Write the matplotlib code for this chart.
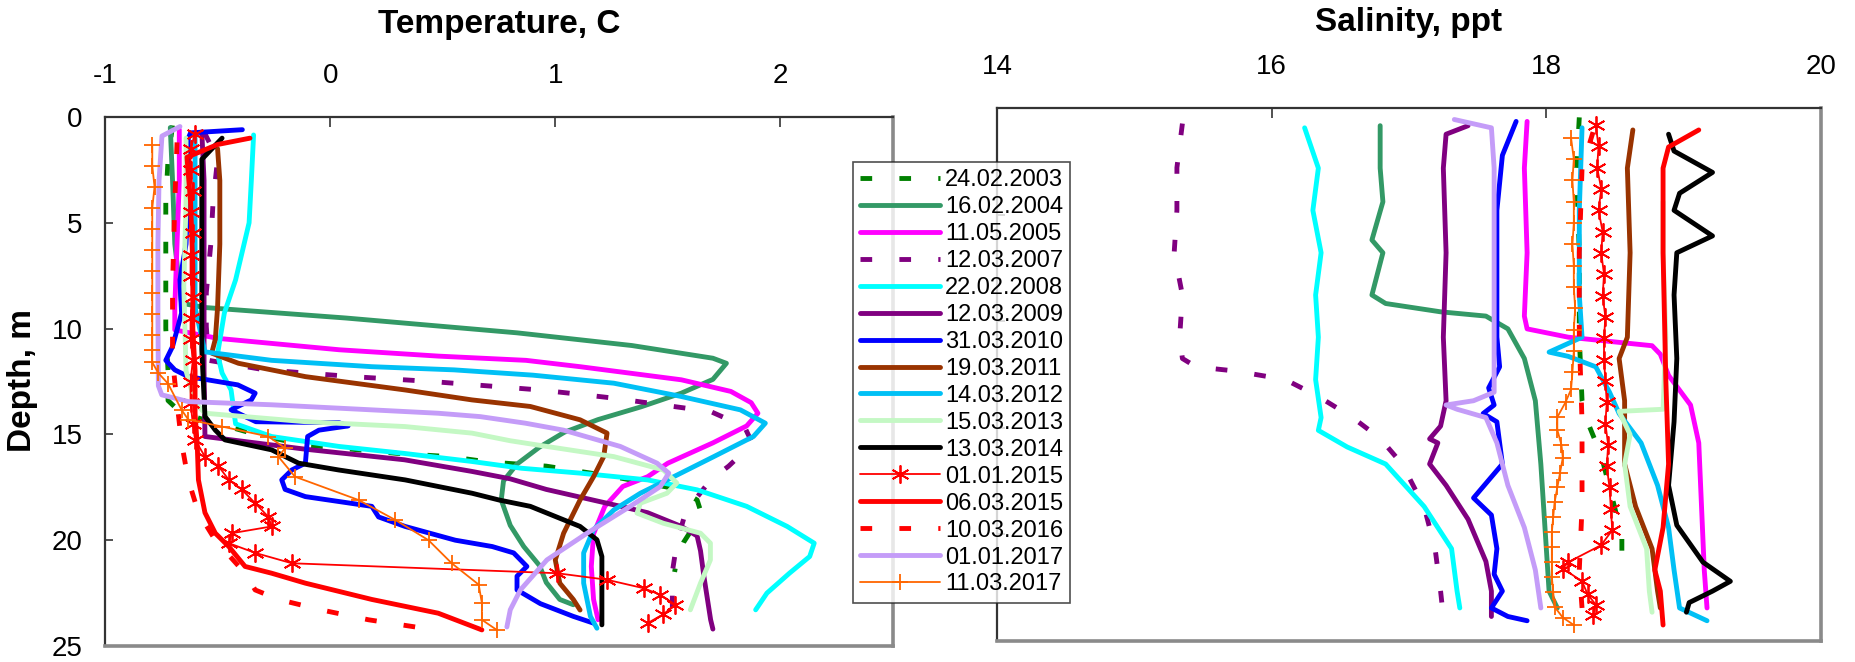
import matplotlib
matplotlib.use("Agg")
import matplotlib.pyplot as plt

plt.rcParams['font.family'] = ['Liberation Sans', 'DejaVu Sans']

labels = ["24.02.2003", "16.02.2004", "11.05.2005", "12.03.2007", "22.02.2008",
          "12.03.2009", "31.03.2010", "19.03.2011", "14.03.2012", "15.03.2013",
          "13.03.2014", "01.01.2015", "06.03.2015", "10.03.2016", "01.01.2017",
          "11.03.2017"]

# ---------------- Temperature profiles (depth m, temperature C) ----------------
t_d_2003 = [0.4, 2, 4, 6, 8, 10, 12, 13.4, 14.0, 15.0, 15.5, 15.9, 16.05, 16.3, 16.5, 17.0, 17.6, 18.1, 18.6, 19.35, 20.1, 20.9, 21.5]
t_v_2003 = [-0.70, -0.72, -0.73, -0.73, -0.73, -0.73, -0.72, -0.72, -0.66, -0.33, -0.11, 0.30, 0.53, 0.70, 0.96, 1.26, 1.55, 1.63, 1.645, 1.615, 1.57, 1.54, 1.53]

t_d_2004 = [0.5, 3, 6, 8.8, 9.0, 9.5, 10.2, 10.8, 11.4, 11.64, 12.4, 13.05, 13.7, 14.3, 14.9, 15.6, 16.4, 17.2, 18.1, 19.3, 20.3, 21.2, 22.0, 22.8, 23.05]
t_v_2004 = [-0.71, -0.70, -0.69, -0.66, -0.56, 0.07, 0.83, 1.34, 1.70, 1.76, 1.70, 1.56, 1.38, 1.19, 1.04, 0.93, 0.83, 0.77, 0.76, 0.80, 0.86, 0.93, 0.96, 1.02, 1.08]

t_d_2005 = [0.6, 3, 6, 9, 10.06, 10.46, 11.0, 11.3, 11.5, 11.8, 12.42, 12.97, 13.5, 14.0, 14.6, 15.4, 16.36, 17.0, 17.46, 18.4, 19.7, 21.24, 22.8, 23.76]
t_v_2005 = [-0.67, -0.67, -0.68, -0.69, -0.69, -0.50, 0.04, 0.48, 0.87, 1.11, 1.56, 1.78, 1.87, 1.90, 1.85, 1.70, 1.50, 1.41, 1.30, 1.22, 1.17, 1.16, 1.17, 1.19]

t_d_2007 = [0.7, 2, 4, 6, 8.3, 9.9, 11.5, 11.95, 12.27, 12.5, 12.74, 12.9, 13.13, 13.3, 13.6, 13.92, 14.63, 15.3, 16.0, 16.5, 17.15, 18.1, 19.0, 20.1, 21.5, 23.6]
t_v_2007 = [-0.56, -0.50, -0.52, -0.53, -0.55, -0.55, -0.54, -0.29, 0.10, 0.45, 0.74, 0.93, 1.13, 1.27, 1.47, 1.69, 1.84, 1.87, 1.82, 1.77, 1.69, 1.62, 1.57, 1.54, 1.52, 1.52]

t_d_2008 = [0.85, 3, 5, 7.7, 9.27, 11.2, 12.1, 12.9, 13.7, 14.5, 15.1, 15.57, 15.9, 16.28, 16.6, 16.83, 17.15, 17.62, 18.4, 19.35, 20.14, 20.77, 21.56, 22.5, 23.29]
t_v_2008 = [-0.34, -0.35, -0.36, -0.42, -0.47, -0.50, -0.48, -0.44, -0.43, -0.42, -0.26, 0.04, 0.33, 0.63, 0.85, 1.11, 1.41, 1.63, 1.85, 2.03, 2.15, 2.13, 2.04, 1.94, 1.89]

t_d_2009 = [0.7, 3, 6, 9, 12, 15.1, 15.7, 16.2, 16.75, 17.1, 17.6, 18.4, 18.7, 19.35, 19.8, 20.5, 21.7, 23.76, 24.2]
t_v_2009 = [-0.57, -0.56, -0.56, -0.56, -0.56, -0.556, -0.11, 0.33, 0.63, 0.80, 0.96, 1.29, 1.41, 1.56, 1.63, 1.645, 1.66, 1.69, 1.70]

t_d_2010 = [0.6, 0.75, 1.0, 3, 6, 7.7, 9.27, 10.85, 11.5, 11.95, 12.27, 12.4, 12.66, 13.05, 13.37, 13.68, 13.84, 14.4, 14.45, 14.6, 14.8, 15.1, 16.36, 16.68, 17.15, 17.6, 17.94, 18.4, 18.9, 19.35, 20.0, 20.3, 20.6, 21.24, 21.7, 22.35, 23.0, 23.6, 23.92]
t_v_2010 = [-0.39, -0.62, -0.63, -0.63, -0.64, -0.667, -0.66, -0.70, -0.73, -0.69, -0.63, -0.556, -0.41, -0.333, -0.35, -0.41, -0.44, -0.33, 0.04, 0.08, -0.05, -0.10, -0.11, -0.17, -0.215, -0.20, -0.11, 0.185, 0.215, 0.333, 0.556, 0.72, 0.815, 0.874, 0.83, 0.83, 0.934, 1.08, 1.17]

t_d_2011 = [1.5, 3, 6, 9, 10.5, 11.16, 11.64, 12.27, 12.9, 13.37, 13.68, 14.31, 14.94, 16.05, 17.0, 18.1, 19.67, 20.93, 22.03, 22.8, 23.3]
t_v_2011 = [-0.50, -0.49, -0.49, -0.50, -0.51, -0.526, -0.407, -0.11, 0.333, 0.63, 0.889, 1.11, 1.23, 1.215, 1.17, 1.11, 1.037, 1.0, 1.02, 1.08, 1.11]

t_d_2012 = [0.8, 3, 6, 9, 11.1, 11.5, 11.8, 11.95, 12.2, 12.58, 13.2, 13.84, 14.47, 15.1, 16.05, 17.0, 17.78, 18.57, 19.5, 20.6, 22.03, 23.6, 24.16]
t_v_2012 = [-0.60, -0.60, -0.60, -0.60, -0.556, -0.26, 0.185, 0.55, 0.90, 1.26, 1.556, 1.822, 1.933, 1.88, 1.704, 1.526, 1.378, 1.26, 1.17, 1.126, 1.126, 1.156, 1.185]

t_d_2013 = [1.0, 4, 8, 12, 13.5, 14.0, 14.4, 14.63, 14.94, 15.3, 15.57, 16.05, 16.68, 17.3, 17.78, 18.25, 18.72, 19.2, 19.67, 20.14, 20.93, 22.03, 23.29]
t_v_2013 = [-0.64, -0.64, -0.65, -0.64, -0.60, -0.556, -0.11, 0.333, 0.63, 0.80, 0.963, 1.26, 1.48, 1.54, 1.496, 1.378, 1.363, 1.48, 1.645, 1.689, 1.689, 1.645, 1.60]

t_d_2014 = [1.0, 2.0, 5, 8, 11, 14.15, 14.8, 15.26, 15.73, 16.36, 16.68, 17.15, 17.78, 18.1, 18.4, 19.35, 19.98, 20.77, 22.8, 24.0]
t_v_2014 = [-0.48, -0.57, -0.57, -0.57, -0.57, -0.556, -0.51, -0.467, -0.26, -0.14, 0.037, 0.333, 0.63, 0.75, 0.889, 1.11, 1.185, 1.207, 1.207, 1.207]

t_d_2015a = [0.8, 1.5, 2.5, 3.5, 4.5, 5.5, 6.5, 7.5, 8.5, 9.5, 10.5, 11.5, 12.5, 13.5, 14.5, 15.26, 16.05, 16.5, 17.15, 17.6, 18.25, 18.9, 19.35, 19.67, 20.14, 20.6, 21.09, 21.56, 21.87, 22.27, 22.58, 23.05, 23.5, 23.92]
t_v_2015a = [-0.60, -0.62, -0.62, -0.61, -0.62, -0.61, -0.62, -0.62, -0.61, -0.62, -0.62, -0.61, -0.62, -0.62, -0.61, -0.60, -0.556, -0.496, -0.45, -0.393, -0.333, -0.274, -0.26, -0.437, -0.45, -0.333, -0.17, 1.008, 1.23, 1.393, 1.467, 1.533, 1.48, 1.41]

t_d_2015b = [1.0, 1.3, 1.9, 4, 7, 10, 12, 14, 15.57, 17.15, 18.7, 19.67, 20.3, 21.24, 21.56, 22.03, 22.8, 23.45, 24.24]
t_v_2015b = [-0.356, -0.50, -0.636, -0.62, -0.61, -0.61, -0.60, -0.60, -0.59, -0.585, -0.556, -0.51, -0.45, -0.378, -0.26, -0.11, 0.185, 0.48, 0.674]

t_d_2016 = [1.2, 4, 8, 11.5, 13.5, 15.4, 17.15, 18.7, 20.0, 21.56, 22.35, 22.8, 23.3, 23.76, 24.1]
t_v_2016 = [-0.68, -0.69, -0.70, -0.70, -0.68, -0.66, -0.63, -0.585, -0.51, -0.378, -0.333, -0.23, -0.037, 0.17, 0.378]

t_d_2017a = [0.45, 0.9, 3, 6, 9, 12.7, 13.13, 13.45, 13.6, 13.84, 14.0, 14.16, 14.47, 14.8, 15.57, 16.36, 16.83, 17.46, 18.4, 19.67, 20.93, 22.35, 23.29, 24.1]
t_v_2017a = [-0.667, -0.747, -0.76, -0.765, -0.765, -0.763, -0.748, -0.63, -0.26, 0.185, 0.48, 0.667, 0.867, 1.037, 1.289, 1.452, 1.504, 1.467, 1.333, 1.141, 0.963, 0.845, 0.80, 0.785]

t_d_2017b = [1.3, 2.3, 3.3, 4.3, 5.3, 6.3, 7.3, 8.3, 9.3, 10.3, 11.0, 11.6, 12.1, 12.6, 13.84, 14.3, 14.63, 15.1, 15.65, 16.05, 17.0, 18.1, 19.04, 20.0, 21.09, 22.1, 22.98, 23.76, 24.24]
t_v_2017b = [-0.79, -0.79, -0.78, -0.79, -0.79, -0.79, -0.79, -0.79, -0.79, -0.79, -0.79, -0.79, -0.763, -0.72, -0.66, -0.63, -0.48, -0.274, -0.20, -0.23, -0.156, 0.126, 0.289, 0.437, 0.54, 0.66, 0.674, 0.674, 0.74]

# ---------------- Salinity profiles (depth m, salinity ppt) ----------------
s_d_2003 = [0.44, 2.82, 6.79, 10.75, 13.73, 14.72, 16.3, 18.29, 20.08, 21.47]
s_v_2003 = [18.24, 18.22, 18.24, 18.24, 18.26, 18.30, 18.40, 18.48, 18.55, 18.55]

s_d_2004 = [0.83, 2.82, 4.4, 6.19, 6.79, 8.77, 9.17, 9.56, 9.76, 10.36, 11.75, 13.73, 16.7, 20.67, 22.66, 23.45]
s_v_2004 = [16.79, 16.79, 16.81, 16.73, 16.81, 16.73, 16.83, 17.23, 17.56, 17.72, 17.84, 17.92, 17.96, 18.00, 18.02, 18.08]

s_d_2005 = [0.63, 2.82, 6.79, 9.76, 10.36, 10.75, 11.15, 11.55, 12.54, 13.93, 15.71, 18.69, 21.67, 23.45]
s_v_2005 = [17.86, 17.84, 17.86, 17.84, 17.86, 18.16, 18.77, 18.83, 18.89, 19.05, 19.11, 19.13, 19.15, 19.17]

s_d_2007 = [0.73, 2.8, 4.8, 6.8, 8.77, 10.75, 11.75, 12.14, 12.34, 12.74, 13.53, 14.52, 15.5, 16.7, 18.7, 20.67, 22.66, 23.85]
s_v_2007 = [15.35, 15.31, 15.31, 15.29, 15.35, 15.33, 15.35, 15.45, 15.74, 16.10, 16.34, 16.59, 16.79, 16.95, 17.11, 17.19, 17.23, 17.25]

s_d_2008 = [0.93, 2.82, 4.8, 6.79, 8.77, 10.75, 12.74, 14.52, 15.12, 15.9, 16.7, 18.69, 20.67, 22.66, 23.45]
s_v_2008 = [16.24, 16.34, 16.30, 16.36, 16.32, 16.34, 16.32, 16.36, 16.34, 16.55, 16.83, 17.11, 17.31, 17.35, 17.37]

s_d_2009 = [0.83, 1.23, 2.82, 6.79, 10.75, 13.73, 14.92, 15.52, 15.71, 16.7, 17.7, 19.29, 21.27, 22.66, 23.85]
s_v_2009 = [17.43, 17.27, 17.25, 17.27, 17.25, 17.27, 17.23, 17.15, 17.21, 17.15, 17.27, 17.43, 17.56, 17.60, 17.60]

s_d_2010 = [0.63, 2.22, 4.8, 10.75, 12.14, 13.13, 13.93, 14.33, 14.72, 16.7, 18.29, 19.09, 20.67, 21.87, 22.66, 23.45, 23.85, 24.05]
s_v_2010 = [17.78, 17.68, 17.64, 17.64, 17.66, 17.58, 17.62, 17.54, 17.64, 17.68, 17.47, 17.60, 17.64, 17.62, 17.68, 17.60, 17.72, 17.86]

s_d_2011 = [1.03, 2.82, 6.79, 10.75, 11.75, 13.73, 16.7, 18.69, 20.67, 22.66, 23.45]
s_v_2011 = [18.63, 18.59, 18.61, 18.59, 18.53, 18.57, 18.57, 18.65, 18.77, 18.81, 18.83]

s_d_2012 = [0.93, 4.8, 8.77, 10.75, 11.45, 11.65, 12.14, 13.33, 14.33, 15.71, 17.7, 19.68, 21.67, 23.45, 24.05]
s_v_2012 = [18.26, 18.24, 18.24, 18.26, 18.02, 18.16, 18.36, 18.46, 18.53, 18.69, 18.81, 18.89, 18.93, 18.97, 19.17]

s_d_2013 = [4.4, 6.79, 10.75, 14.13, 14.23, 15.32, 16.7, 18.69, 20.67, 22.66, 23.65]
s_v_2013 = [18.85, 18.85, 18.87, 18.85, 18.53, 18.61, 18.57, 18.61, 18.73, 18.75, 18.77]

s_d_2014 = [1.23, 2.02, 3.02, 4.0, 4.8, 6.0, 6.79, 8.77, 11.75, 14.72, 17.7, 19.57, 21.3, 22.2, 22.66, 23.2, 23.65]
s_v_2014 = [18.89, 18.93, 19.21, 18.97, 18.93, 19.21, 18.95, 18.93, 18.95, 18.93, 18.89, 18.95, 19.14, 19.34, 19.21, 19.04, 19.02]

s_d_2015a = [0.8, 1.8, 2.8, 3.8, 4.8, 5.8, 6.8, 7.8, 8.8, 9.8, 10.8, 11.8, 12.8, 13.8, 14.8, 15.8, 16.8, 17.8, 18.8, 19.8, 20.5, 21.3, 21.6, 22.2, 22.8, 23.3, 23.8]
s_v_2015a = [18.36, 18.38, 18.37, 18.40, 18.38, 18.41, 18.40, 18.42, 18.41, 18.43, 18.42, 18.42, 18.43, 18.44, 18.43, 18.45, 18.44, 18.46, 18.47, 18.48, 18.40, 18.16, 18.12, 18.26, 18.30, 18.36, 18.34]

s_d_2015b = [1.03, 1.83, 2.82, 6.79, 12.74, 16.7, 19.68, 21.67, 22.66, 24.25]
s_v_2015b = [19.11, 18.89, 18.85, 18.85, 18.87, 18.89, 18.85, 18.79, 18.83, 18.85]

s_d_2016 = [1.13, 2.82, 6.79, 10.75, 14.72, 18.69, 21.67, 23.45]
s_v_2016 = [18.34, 18.26, 18.24, 18.24, 18.26, 18.26, 18.24, 18.26]

s_d_2017a = [0.54, 0.93, 2.82, 6.79, 10.75, 13.33, 13.73, 13.93, 14.13, 14.52, 15.71, 17.7, 19.68, 21.67, 23.45]
s_v_2017a = [17.33, 17.60, 17.62, 17.62, 17.62, 17.62, 17.47, 17.27, 17.35, 17.56, 17.64, 17.72, 17.84, 17.92, 17.96]

s_d_2017b = [1.4, 2.4, 3.4, 4.4, 5.4, 6.4, 7.4, 8.4, 9.4, 10.4, 11.4, 12.4, 13.2, 13.8, 14.5, 15.1, 15.8, 16.4, 17.1, 17.8, 18.5, 19.2, 19.9, 20.6, 21.3, 22.0, 22.7, 23.4, 23.9, 24.25]
s_v_2017b = [18.18, 18.20, 18.19, 18.20, 18.20, 18.19, 18.20, 18.20, 18.21, 18.20, 18.20, 18.19, 18.18, 18.14, 18.08, 18.08, 18.11, 18.12, 18.10, 18.08, 18.06, 18.05, 18.04, 18.04, 18.04, 18.04, 18.05, 18.06, 18.12, 18.20]

temp_depths = [t_d_2003, t_d_2004, t_d_2005, t_d_2007, t_d_2008, t_d_2009, t_d_2010, t_d_2011,
               t_d_2012, t_d_2013, t_d_2014, t_d_2015a, t_d_2015b, t_d_2016, t_d_2017a, t_d_2017b]
temp_vals = [t_v_2003, t_v_2004, t_v_2005, t_v_2007, t_v_2008, t_v_2009, t_v_2010, t_v_2011,
             t_v_2012, t_v_2013, t_v_2014, t_v_2015a, t_v_2015b, t_v_2016, t_v_2017a, t_v_2017b]
sal_depths = [s_d_2003, s_d_2004, s_d_2005, s_d_2007, s_d_2008, s_d_2009, s_d_2010, s_d_2011,
              s_d_2012, s_d_2013, s_d_2014, s_d_2015a, s_d_2015b, s_d_2016, s_d_2017a, s_d_2017b]
sal_vals = [s_v_2003, s_v_2004, s_v_2005, s_v_2007, s_v_2008, s_v_2009, s_v_2010, s_v_2011,
            s_v_2012, s_v_2013, s_v_2014, s_v_2015a, s_v_2015b, s_v_2016, s_v_2017a, s_v_2017b]

temp_ticks = [-1, 0, 1, 2]
sal_ticks = [14, 16, 18, 20]
depth_ticks = [0, 5, 10, 15, 20, 25]

# ---------------- styles ----------------
THICK = 3.5
THIN = 1.3
DASH = (0, (2.4, 5.6))
styles = [
    dict(color='#008000', lw=THICK, ls=DASH),
    dict(color='#339966', lw=THICK, ls='-'),
    dict(color='#FF00FF', lw=THICK, ls='-'),
    dict(color='#800080', lw=THICK, ls=DASH),
    dict(color='#00FFFF', lw=THICK, ls='-'),
    dict(color='#800080', lw=THICK, ls='-'),
    dict(color='#0000FF', lw=THICK, ls='-'),
    dict(color='#993300', lw=THICK, ls='-'),
    dict(color='#00C0F5', lw=THICK, ls='-'),
    dict(color='#C4F8C4', lw=THICK, ls='-'),
    dict(color='#000000', lw=THICK, ls='-'),
    dict(color='#FF0000', lw=THIN, ls='-', marker=(6, 2, 0), ms=13, mew=1.3),
    dict(color='#FF0000', lw=THICK, ls='-'),
    dict(color='#FF0000', lw=THICK, ls=DASH),
    dict(color='#C49CF8', lw=THICK, ls='-'),
    dict(color='#FF6600', lw=THIN, ls='-', marker='+', ms=11, mew=1.3),
]

W, H = 1855, 662
fig = plt.figure(figsize=(W / 100, H / 100), dpi=100)

ax1 = fig.add_axes([105 / W, 1 - 646 / H, (893 - 105) / W, (646 - 117) / H])
ax2 = fig.add_axes([997 / W, 1 - 641 / H, (1821 - 997) / W, (641 - 108) / H])

handles = []
for d, v, st, lab in zip(temp_depths, temp_vals, styles, labels):
    h, = ax1.plot(v, d, label=lab, solid_capstyle='round', dash_capstyle='butt', **st)
    handles.append(h)
for d, v, st in zip(sal_depths, sal_vals, styles):
    ax2.plot(v, d, solid_capstyle='round', dash_capstyle='butt', **st)

for ax, xt, xl in ((ax1, temp_ticks, (-1, 2.5)), (ax2, sal_ticks, (14, 20))):
    ax.set_xlim(*xl)
    ax.set_ylim(25, 0)
    ax.xaxis.tick_top()
    ax.set_xticks(xt)
    ax.set_xticklabels([str(t) for t in xt])
    ax.set_yticks(depth_ticks)
    ax.tick_params(axis='x', direction='in', length=7, width=1.2, color='#333333',
                   labelsize=20, pad=20)
    ax.tick_params(axis='y', direction='in', length=6, width=1.2, color='#333333',
                   labelsize=20, pad=16)
    for side in ('top', 'left'):
        ax.spines[side].set_color('#333333')
        ax.spines[side].set_linewidth(1.6)
    for side in ('right', 'bottom'):
        ax.spines[side].set_color('#8a8a8a')
        ax.spines[side].set_linewidth(2.6)

ax2.set_yticklabels([])

fig.text(499 / W, 1 - 25 / H, "Temperature, C", ha='center', va='center',
         fontsize=24, fontweight='bold')
fig.text(1409 / W, 1 - 23 / H, "Salinity, ppt", ha='center', va='center',
         fontsize=24, fontweight='bold')
fig.text(22 / W, 1 - 381 / H, "Depth, m", ha='center', va='center', rotation=90,
         fontsize=24, fontweight='bold')

leg = fig.legend(handles=handles, labels=labels, loc='upper left',
                 bbox_to_anchor=(853 / W, 1 - 162 / H), bbox_transform=fig.transFigure,
                 borderaxespad=0, fontsize=17, frameon=True, fancybox=False,
                 edgecolor='#222222', handlelength=3.4, handletextpad=0.2,
                 labelspacing=0.21, borderpad=0.3)
leg.get_frame().set_linewidth(1.2)

fig.savefig("out.png", dpi=100, facecolor='white')
